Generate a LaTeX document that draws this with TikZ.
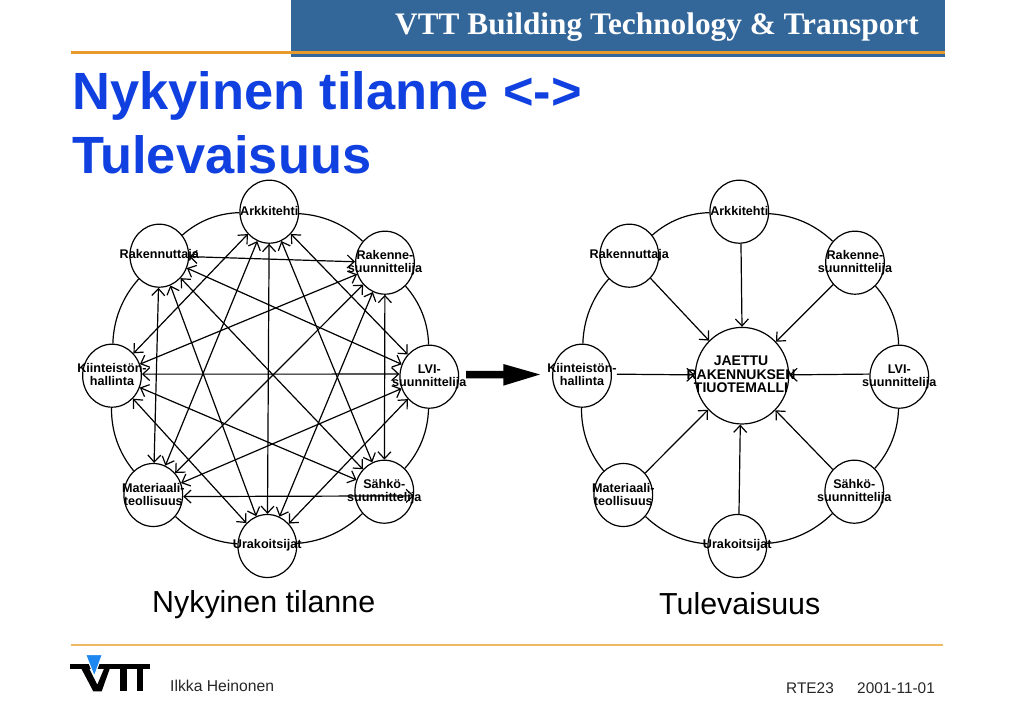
\documentclass[tikz,border=0pt]{standalone}
\usepackage{fontspec}
\setmainfont{Liberation Sans}
\newfontfamily\serifhead{Liberation Serif}
\usetikzlibrary{shapes.geometric,arrows.meta}
\definecolor{band}{HTML}{336699}
\definecolor{orangeA}{HTML}{E89A2C}
\definecolor{orangeB}{HTML}{F0B860}
\definecolor{titleblue}{HTML}{1040E0}
\definecolor{logoblue}{HTML}{1E88F0}
\tikzset{
 x=1pt,y=-1pt,
 person/.style={ellipse,draw=black,fill=white,line width=1.2pt,minimum width=58.7pt,minimum height=63pt,inner sep=0pt},
 hub/.style={ellipse,draw=black,fill=white,line width=1.2pt,minimum width=93.4pt,minimum height=96.6pt,inner sep=0pt},
 lab/.style={font=\fontsize{12.6}{13}\selectfont\bfseries,align=center,inner sep=0pt},
 hublab/.style={font=\fontsize{14}{13.5}\selectfont\bfseries,align=center,inner sep=0pt},
 rim/.style={line width=1.2pt,bend left=20,looseness=0.9},
 both/.style={line width=1.2pt,{Straight Barb[length=7pt,width=13pt]}-{Straight Barb[length=7pt,width=13pt]}},
 one/.style={line width=1.2pt,-{Straight Barb[length=7pt,width=13pt]}},
 caption/.style={font=\fontsize{30.4}{32}\selectfont,anchor=base west,inner sep=0pt},
 foot/.style={font=\fontsize{15.4}{16}\selectfont,anchor=base west,inner sep=0pt,text=black!85},
 titletext/.style={font=\fontsize{52.4}{54}\selectfont\bfseries,text=titleblue,anchor=base west,inner sep=0pt},
}
\begin{document}
\begin{tikzpicture}
\useasboundingbox (0,0) rectangle (1023,708);
% header
\fill[band] (291,0) rectangle (945,57.5);
\fill[orangeA] (71,51) rectangle (945,53.7);
\node[font=\serifhead\fontsize{31.3}{32}\selectfont\bfseries,text=white,anchor=base west,inner sep=0pt] (head) at (395,35) {VTT Building Technology \& Transport};
\node[titletext] (title1) at (72,110) {Nykyinen tilanne <->};
\node[titletext] (title2) at (72,174) {Tulevaisuus};
% left network
\foreach \n/\x/\y in {
 ark/269.3/211.7,
 rak/159.3/255.7,
 rke/385/262.7,
 kii/112/375.7,
 lvi/429.3/376.7,
 mat/153.3/495,
 sah/384.3/491.7,
 ura/267.3/546}
 {\node[person] (\n) at (\x,\y) {};}
\draw[rim] (ark) to (rke);
\draw[rim] (rke) to (lvi);
\draw[rim] (lvi) to (sah);
\draw[rim] (sah) to (ura);
\draw[rim] (ura) to (mat);
\draw[rim] (mat) to (kii);
\draw[rim] (kii) to (rak);
\draw[rim] (rak) to (ark);
\foreach \a/\b in {rak/rke,rak/lvi,rak/sah,rak/ura,rak/mat,ark/lvi,ark/sah,ark/ura,ark/mat,ark/kii,rke/kii,rke/mat,rke/ura,rke/sah,lvi/mat,lvi/ura,kii/sah,kii/ura}
 {\draw[both] (\a) -- (\b);}
\draw[both] (lvi.175) -- (kii.3);
\draw[both] (mat.-3) -- (sah.-8);
\foreach \n/\t/\dy in {ark/Arkkitehti/-0.7,rak/Rakennuttaja/-0.7,rke/Rakenne-\\suunnittelija/0,kii/Kiinteistön-\\hallinta/-1,lvi/LVI-\\suunnittelija/0,mat/Materiaali-\\teollisuus/-0.5,sah/Sähkö-\\suunnittelija/-0.3,ura/Urakoitsijat/-0.7}
 {\node[lab] (\n-t) at ([yshift=-\dy pt]\n.center) {\t};}
% big arrow
\fill[black] (466,371) -- (503.3,371) -- (503.3,364) -- (540,374.5) -- (503.3,385.7) -- (503.3,378.3) -- (466,378.3) -- cycle;
% right network
\foreach \n/\x/\y in {
 Ark/739.3/211.7,
 Rak/629.3/255.7,
 Rke/855/262.7,
 Kii/582/375.7,
 Lvi/899.3/376.7,
 Mat/623.3/495,
 Sah/854.3/491.7,
 Ura/737.3/546}
 {\node[person] (\n) at (\x,\y) {};}
\node[hub] (Hub) at (742,375.7) {};
\draw[rim] (Ark) to (Rke);
\draw[rim] (Rke) to (Lvi);
\draw[rim] (Lvi) to (Sah);
\draw[rim] (Sah) to (Ura);
\draw[rim] (Ura) to (Mat);
\draw[rim] (Mat) to (Kii);
\draw[rim] (Kii) to (Rak);
\draw[rim] (Rak) to (Ark);
\foreach \a in {Rak,Rke,Mat,Sah}
 {\draw[one] (\a) -- (Hub);}
\draw[one] (Ark.-87) -- (Hub.90);
\draw[one] (Ura.87) -- (Hub.-92);
\draw[one] (Lvi.175) -- (Hub.1);
\draw[one,shorten <=5pt] (Kii.3) -- (Hub.179);
\foreach \n/\t/\dy in {Ark/Arkkitehti/-0.7,Rak/Rakennuttaja/-0.7,Rke/Rakenne-\\suunnittelija/0,Kii/Kiinteistön-\\hallinta/-1,Lvi/LVI-\\suunnittelija/0,Mat/Materiaali-\\teollisuus/-0.5,Sah/Sähkö-\\suunnittelija/-0.3,Ura/Urakoitsijat/-0.7}
 {\node[lab] (\n-t) at ([yshift=-\dy pt]\n.center) {\t};}
\node[hublab] (Hub-t) at ([xshift=-1pt,yshift=1pt]Hub.center) {JAETTU\\RAKENNUKSEN\\TIUOTEMALLI};
% captions
\node[caption] (cap1) at (152,612) {Nykyinen tilanne};
\node[caption] (cap2) at (659,614) {Tulevaisuus};
% footer
\fill[orangeB] (71,644) rectangle (943,646);
\fill[black] (70,663.7) rectangle (150,668.7);
\fill[black] (81,668) -- (93.3,691.3) -- (101.7,691.3) -- (110,668) -- (104.3,668) -- (97.3,684.7) -- (89,668) -- cycle;
\fill[black] (120,668) rectangle (126.7,691.3);
\fill[black] (136.7,668) rectangle (143.3,691.3);
\filldraw[fill=logoblue,draw=white,line width=1pt] (85.7,654.7) -- (102.3,654.7) -- (94.3,676.3) -- cycle;
\node[foot,font=\fontsize{15.7}{16}\selectfont] (auth) at (170,691) {Ilkka Heinonen};
\node[foot] (rte) at (786,693) {RTE23};
\node[foot] (date) at (857,693) {2001-11-01};
\end{tikzpicture}
\end{document}
